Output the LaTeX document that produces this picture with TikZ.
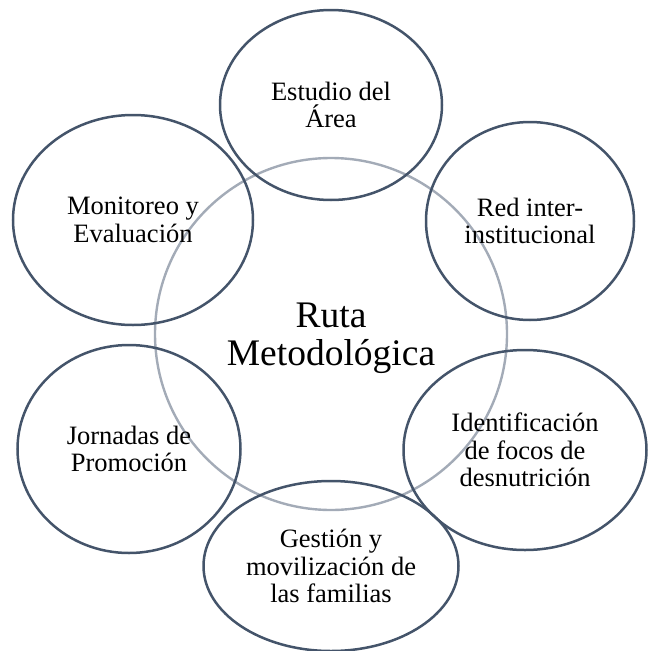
\documentclass[tikz,border=0pt]{standalone}
\usepackage{fontspec}
\setmainfont{Liberation Serif}
\usetikzlibrary{shapes.geometric}
\definecolor{ringdark}{HTML}{44546A}
\definecolor{ringgray}{HTML}{A3ABB7}
\tikzset{
  ell/.style={ellipse, draw=ringdark, line width=2.5pt, inner sep=0pt, align=center,
    font=\fontsize{26.5}{27.5}\selectfont},
  hub/.style={circle, draw=ringgray, line width=2.4pt, inner sep=0pt, align=center,
    font=\fontsize{37.5}{38}\selectfont}
}
\begin{document}
\begin{tikzpicture}[x=1pt,y=-1pt]
\useasboundingbox (0,0) rectangle (648,651);
\node[hub, minimum size=352pt] (hub) at (331,334) {};
\node[align=center, font=\fontsize{37.5}{38}\selectfont] (hubtext) at (331,338) {Ruta\\Metodológica};
\node[ell, minimum width=222pt, minimum height=190pt] (estudio) at (331,105) {Estudio del\\Área};
\node[ell, minimum width=208pt, minimum height=198pt] (red) at (530,221) {Red inter-\\institucional};
\node[ell, minimum width=243pt, minimum height=200pt] (ident) at (525,450) {Identificación\\de focos de\\desnutrición};
\node[ell, minimum width=255pt, minimum height=170pt] (gestion) at (331,566) {Gestión y\\movilización de\\las familias};
\node[ell, minimum width=223pt, minimum height=208pt] (jornadas) at (129,449) {Jornadas de\\Promoción};
\node[ell, minimum width=240pt, minimum height=210pt] (monitoreo) at (133,220) {Monitoreo y\\Evaluación};
\end{tikzpicture}
\end{document}
